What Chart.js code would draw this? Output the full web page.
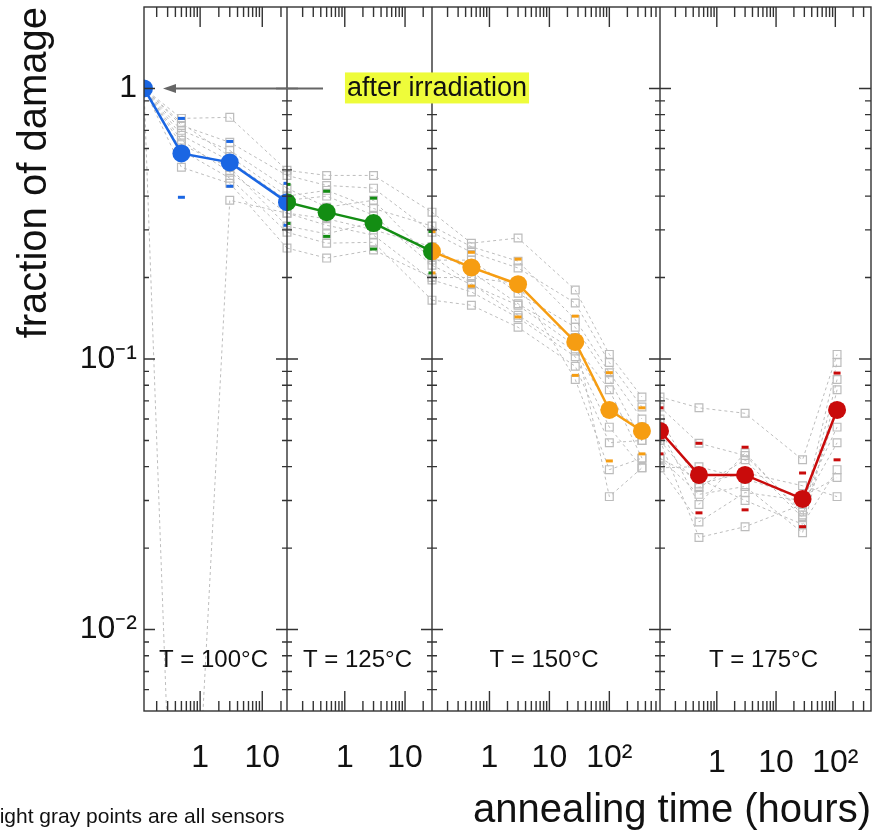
<!DOCTYPE html>
<html>
<head>
<meta charset="utf-8">
<title>fraction of damage vs annealing time</title>
<script src="https://cdn.jsdelivr.net/npm/chart.js@4.4.1/dist/chart.umd.min.js"></script>
<style>
  body { margin: 0; background: #fff; overflow: hidden; }
  #wrap { position: relative; width: 873px; height: 835px; overflow: hidden; }
  #note { position: absolute; left: -5px; top: 803px; font: 21px "Liberation Sans", Arial, sans-serif; color: #111; white-space: nowrap; line-height: 25px; }
</style>
</head>
<body>
<div id="wrap">
  <canvas id="chart" width="873" height="835"></canvas>
  <div id="note">light gray points are all sensors</div>
</div>
<script>
const FONT = '"Liberation Sans", Arial, Helvetica, sans-serif';

// one log time axis per annealing temperature
const panelTemps = ['T = 100°C', 'T = 125°C', 'T = 150°C', 'T = 175°C'];
const panelColors = ['#1a66e3', '#138d13', '#f69d12', '#c90b0b'];
const panelMin = [0.125, 0.11, 0.11, 0.11];
const panelMax = [25, 28, 700, 400];
const panelWeight = [143, 145, 228, 211];

const xTickLabels = {1: '1', 10: '10', 100: '10²'};
const yTickLabels = {1: '1', 0.1: '10⁻¹', 0.01: '10⁻²'};

// annealing time (hours) of each step
const times100 = [0.125, 0.5, 3, 25];
const times125 = [0.11, 0.5, 3, 28];
const times150 = [0.11, 0.5, 3, 27, 100, 350];
const times175 = [0.11, 0.5, 3, 28, 107];

// average fraction of damage
const mean100 = [1.0, 0.575, 0.533, 0.380];
const mean125 = [0.380, 0.349, 0.318, 0.250];
const mean150 = [0.250, 0.218, 0.189, 0.1156, 0.0648, 0.0542];
const mean175 = [0.0542, 0.0373, 0.0373, 0.0304, 0.0648];

// small coloured marks above / below the average
const hi100 = [null, 0.775, 0.637, 0.446];
const lo100 = [null, 0.396, 0.435, 0.312];
const hi125 = [0.442, 0.417, 0.393, 0.296];
const lo125 = [0.317, 0.284, 0.255, 0.208];
const hi150 = [0.296, 0.248, 0.234, 0.144, 0.089, 0.066];
const lo150 = [0.208, 0.186, 0.143, 0.087, 0.042, 0.0446];
const hi175 = [0.066, 0.0488, 0.0472, 0.0379, 0.0887];
const lo175 = [0.0446, 0.0270, 0.0277, 0.0240, 0.0424];

// individual sensors (light gray)
const sensors100 = [
  [1, 0.775, 0.782, 0.498],
  [1, 0.730, 0.632, 0.477],
  [1, 0.700, 0.590, 0.428],
  [1, 0.671, 0.540, 0.386],
  [1, 0.643, 0.490, 0.346],
  [1, 0.590, 0.466, 0.294],
  [1, 0.511, 0.446, 0.257],
  [1, 0.00015, 0.386, 0.346],
  [1, 0.745, 0.560, 0.400],
  [1, 0.620, 0.510, 0.310],
];
const sensors125 = [
  [0.498, 0.477, 0.477, 0.349],
  [0.477, 0.438, 0.428, 0.294],
  [0.428, 0.364, 0.386, 0.232],
  [0.386, 0.400, 0.340, 0.222],
  [0.346, 0.312, 0.287, 0.196],
  [0.294, 0.268, 0.270, 0.165],
  [0.257, 0.236, 0.253, 0.200],
  [0.346, 0.330, 0.300, 0.260],
  [0.400, 0.420, 0.360, 0.310],
  [0.310, 0.290, 0.320, 0.240],
];
const sensors150 = [
  [0.349, 0.268, 0.280, 0.180, 0.104, 0.0724],
  [0.294, 0.248, 0.217, 0.161, 0.097, 0.0665],
  [0.232, 0.232, 0.175, 0.131, 0.084, 0.050],
  [0.222, 0.188, 0.158, 0.112, 0.077, 0.043],
  [0.196, 0.177, 0.142, 0.102, 0.056, 0.0396],
  [0.165, 0.158, 0.131, 0.094, 0.049, 0.050],
  [0.200, 0.200, 0.190, 0.084, 0.039, 0.043],
  [0.260, 0.210, 0.160, 0.120, 0.031, 0.0396],
  [0.310, 0.260, 0.230, 0.140, 0.089, 0.060],
  [0.240, 0.190, 0.145, 0.107, 0.066, 0.055],
];
const sensors175 = [
  [0.0724, 0.066, 0.063, 0.0424, 0.104],
  [0.0665, 0.0488, 0.044, 0.0272, 0.097],
  [0.050, 0.0335, 0.0424, 0.0259, 0.084],
  [0.043, 0.0316, 0.0338, 0.0228, 0.077],
  [0.0396, 0.0250, 0.0321, 0.0300, 0.056],
  [0.050, 0.0219, 0.024, 0.0290, 0.049],
  [0.043, 0.036, 0.030, 0.0245, 0.039],
  [0.0396, 0.040, 0.036, 0.031, 0.0365],
  [0.060, 0.0345, 0.038, 0.034, 0.031],
  [0.055, 0.029, 0.045, 0.0265, 0.065],
];

const panelTimes = [times100, times125, times150, times175];
const panelMeans = [mean100, mean125, mean150, mean175];
const panelHi = [hi100, hi125, hi150, hi175];
const panelLo = [lo100, lo125, lo150, lo175];
const panelSensors = [sensors100, sensors125, sensors150, sensors175];
const panelIds = ['x0', 'x1', 'x2', 'x3'];

function pts(times, vals) {
    const out = [];
    vals.forEach((v, i) => { if (v !== null) out.push({x: times[i], y: v}); });
    return out;
}

function isDecade(v) {
    const l = Math.log10(v);
    return Math.abs(l - Math.round(l)) < 1e-6;
}

// 1..9 x 10^n inside the axis range
function logTicks(min, max) {
    const out = [];
    for (let e = Math.floor(Math.log10(min)); e <= Math.ceil(Math.log10(max)); e++) {
        for (let m = 1; m < 10; m++) {
            const v = Number((m * Math.pow(10, e)).toPrecision(6));
            if (v > min * 1.0001 && v < max * 0.9999) out.push({value: v, major: m === 1});
        }
    }
    return out;
}

function noPadding(s) {
    s.paddingLeft = 0;
    s.paddingRight = 0;
    s.paddingTop = 0;
    s.paddingBottom = 0;
}

const datasets = [];
panelIds.forEach((id, p) => {
    panelSensors[p].forEach(s => {
        datasets.push({
            data: pts(panelTimes[p], s),
            xAxisID: id,
            order: 3,
            borderColor: '#bdbdbd',
            borderWidth: 1,
            borderDash: [3, 3],
            pointStyle: 'rect',
            pointRadius: 5.5,
            pointBorderColor: '#bcbcbc',
            pointBackgroundColor: 'rgba(255,255,255,0)',
            pointBorderWidth: 1.2,
        });
    });
    [panelHi[p], panelLo[p]].forEach(arr => {
        datasets.push({
            data: pts(panelTimes[p], arr),
            xAxisID: id,
            order: 2,
            showLine: false,
            pointStyle: 'line',
            pointRadius: 3.5,
            pointBorderWidth: 3,
            pointBorderColor: panelColors[p],
        });
    });
    datasets.push({
        data: pts(panelTimes[p], panelMeans[p]),
        xAxisID: id,
        order: 1,
        borderColor: panelColors[p],
        borderWidth: 2.5,
        pointRadius: 9,
        pointBackgroundColor: panelColors[p],
        pointBorderColor: panelColors[p],
        pointBorderWidth: 0,
    });
});

const scales = {
    y: {
        type: 'logarithmic',
        position: 'left',
        min: 0.005,
        max: 2,
        grid: {display: false, drawTicks: false},
        border: {display: false},
        afterBuildTicks: s => { s.ticks = logTicks(s.min, s.max); },
        afterFit: s => { s.width = 144; noPadding(s); },
        ticks: {
            autoSkip: false,
            padding: 7,
            color: '#111',
            font: {family: FONT, size: 32, lineHeight: 1.2},
            callback: v => yTickLabels[v] || '',
        },
        title: {
            display: true,
            text: 'fraction of damage',
            align: 'end',
            color: '#111',
            padding: {top: 11},
            font: {family: FONT, size: 40, lineHeight: 1.2},
        },
    },
};
panelIds.forEach((id, p) => {
    scales[id] = {
        type: 'logarithmic',
        position: 'bottom',
        stack: 'panels',
        stackWeight: panelWeight[p],
        min: panelMin[p],
        max: panelMax[p],
        grid: {display: false, drawTicks: false},
        border: {display: false},
        afterBuildTicks: s => { s.ticks = logTicks(s.min, s.max); },
        afterFit: s => { s.height = 80; noPadding(s); },
        ticks: {
            autoSkip: false,
            maxRotation: 0,
            padding: p === 3 ? 33 : 28,
            color: '#111',
            font: {family: FONT, size: 32, lineHeight: 1.2},
            callback: v => xTickLabels[v] || '',
        },
    };
});

// frame, inward ticks, panel labels and the annotation
const framePlugin = {
    id: 'frame',
    beforeDatasetDraw(chart, args) {
        const xs = chart.scales[args.meta.xAxisID];
        const a = chart.chartArea;
        chart.ctx.save();
        chart.ctx.beginPath();
        chart.ctx.rect(xs.left, a.top, xs.right - xs.left, a.bottom - a.top);
        chart.ctx.clip();
    },
    afterDatasetDraw(chart) {
        chart.ctx.restore();
    },
    afterDraw(chart) {
        const ctx = chart.ctx, a = chart.chartArea, ys = chart.scales.y;
        ctx.save();
        ctx.strokeStyle = '#333';
        ctx.lineWidth = 1.4;
        ctx.strokeRect(a.left, a.top, a.right - a.left, a.bottom - a.top);
        ctx.beginPath();
        panelIds.forEach((id, i) => {
            const xs = chart.scales[id];
            if (i > 0) {
                ctx.moveTo(xs.left, a.top);
                ctx.lineTo(xs.left, a.bottom);
            }
            xs.ticks.forEach(t => {
                const px = xs.getPixelForValue(t.value);
                const len = isDecade(t.value) ? 20 : 10;
                ctx.moveTo(px, a.bottom);
                ctx.lineTo(px, a.bottom - len);
                ctx.moveTo(px, a.top);
                ctx.lineTo(px, a.top + len);
            });
            ys.ticks.forEach(t => {
                const py = ys.getPixelForValue(t.value);
                const len = isDecade(t.value) ? 11 : 5;
                ctx.moveTo(xs.left + len, py);
                ctx.lineTo(i > 0 ? xs.left - len : xs.left, py);
            });
        });
        ys.ticks.forEach(t => {
            const py = ys.getPixelForValue(t.value);
            const len = isDecade(t.value) ? 12 : 6;
            ctx.moveTo(a.right - len, py);
            ctx.lineTo(a.right, py);
        });
        ctx.stroke();

        ctx.fillStyle = '#111';
        ctx.font = '24px ' + FONT;
        ctx.textAlign = 'center';
        ctx.textBaseline = 'middle';
        panelIds.forEach((id, i) => {
            const xs = chart.scales[id];
            ctx.fillText(panelTemps[i], (xs.left + xs.right) / 2 - 2, a.bottom - 51);
        });

        // "after irradiation" arrow pointing at the first point
        const x0 = chart.scales.x0;
        const py = ys.getPixelForValue(mean100[0]);
        const tip = x0.getPixelForValue(times100[0]) + 19;
        ctx.strokeStyle = '#666';
        ctx.fillStyle = '#666';
        ctx.lineWidth = 2;
        ctx.beginPath();
        ctx.moveTo(tip + 10, py);
        ctx.lineTo(tip + 160, py);
        ctx.stroke();
        ctx.beginPath();
        ctx.moveTo(tip, py);
        ctx.lineTo(tip + 13, py - 4.5);
        ctx.lineTo(tip + 13, py + 4.5);
        ctx.closePath();
        ctx.fill();

        ctx.font = '27px ' + FONT;
        const label = 'after irradiation';
        const w = ctx.measureText(label).width;
        const cx = 437;
        ctx.fillStyle = '#eefc3a';
        ctx.fillRect(cx - w / 2 - 2, py - 16, w + 4, 31);
        ctx.fillStyle = '#111';
        ctx.fillText(label, cx, py);
        ctx.restore();
    },
};

new Chart(document.getElementById('chart'), {
    type: 'line',
    data: {datasets: datasets},
    options: {
        responsive: false,
        animation: false,
        events: [],
        layout: {autoPadding: false, padding: {left: 0, right: 2, top: 7, bottom: 0}},
        elements: {line: {tension: 0}},
        plugins: {
            legend: {display: false},
            tooltip: {enabled: false},
            title: {
                display: true,
                position: 'bottom',
                align: 'end',
                text: 'annealing time (hours)',
                color: '#111',
                font: {family: FONT, size: 40, weight: 'normal', lineHeight: 1},
                padding: {top: 0, bottom: 4},
            },
        },
        scales: scales,
    },
    plugins: [framePlugin],
});
</script>
</body>
</html>
